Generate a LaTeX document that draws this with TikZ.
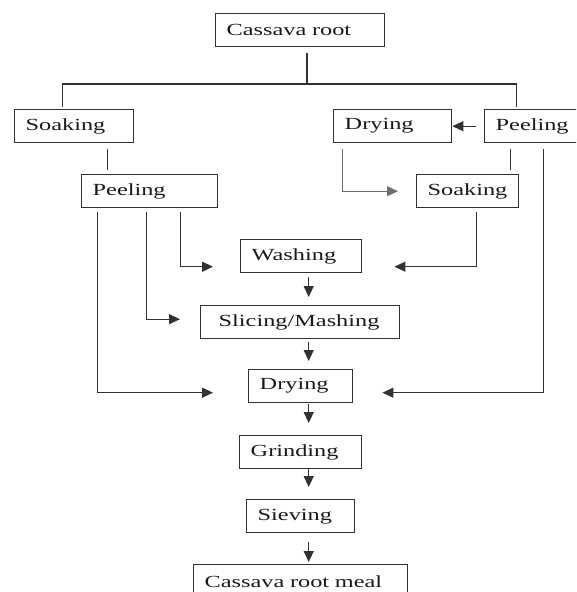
\documentclass[tikz,border=0pt]{standalone}
\usepackage{fontspec}
\setmainfont{Liberation Serif}[FakeStretch=1.43]
\usepackage{tikz}
\usetikzlibrary{arrows.meta}
\definecolor{boxgray}{RGB}{50,50,50}
\definecolor{textgray}{RGB}{25,25,25}
\definecolor{faintgray}{RGB}{110,110,110}
\tikzset{
  step-box/.style={draw=boxgray, line width=1.4pt, anchor=north west,
    text width=#1, align=left, inner xsep=11pt, inner ysep=0pt,
    minimum height=33pt, text=textgray, font=\fontsize{17}{20}\selectfont},
  flow-line/.style={line width=1.3pt, draw=boxgray},
  flow-arrow/.style={-{Triangle[length=11pt, width=10pt]}, line width=1.3pt, draw=boxgray},
  faint-arrow/.style={-{Triangle[length=11pt, width=10pt]}, line width=0.8pt, draw=faintgray}
}
\begin{document}
\begin{tikzpicture}[x=1pt, y=-1pt]
\useasboundingbox (0,0) rectangle (576,592);
\clip (0,0) rectangle (576,592);
% Process steps
\node[step-box=147pt] (root) at (215,13) {Cassava root};
\node[step-box=97pt] (soak-l) at (14,109) {Soaking};
\node[step-box=96pt] (dry-t) at (333,109) {Drying};
\node[step-box=88pt] (peel-r) at (484,109) {Peeling};
\node[step-box=114pt] (peel-l) at (81,174) {Peeling};
\node[step-box=80pt] (soak-r) at (416,174) {Soaking};
\node[step-box=99pt] (wash) at (240,239) {Washing};
\node[step-box=163pt, inner xsep=18pt] (slice) at (200,305) {Slicing/Mashing};
\node[step-box=82pt] (dry-m) at (248,369) {Drying};
\node[step-box=100pt] (grind) at (239,435) {Grinding};
\node[step-box=86pt] (sieve) at (246,499) {Sieving};
\node[step-box=192pt] (meal) at (193,564) {Cassava root meal};

% Split below the root
\coordinate (split) at (307,84);
\draw[flow-line, shorten >=6pt] (split) -- (split |- root.south);
\draw[flow-line, shorten >=2pt] (split) -| ([xshift=-11.5pt]soak-l.north);
\draw[flow-line, shorten >=2pt] (split) -| ([xshift=-23pt]peel-r.north);

% Upper branches
\draw[flow-arrow, shorten <=8pt] (peel-r.west) -- (dry-t.east);
\draw[flow-line, shorten <=6pt, shorten >=4pt] ([xshift=33.5pt]soak-l.south) -- ([xshift=33.5pt]soak-l.south |- peel-l.north);
\draw[flow-line, shorten <=6pt, shorten >=4pt] ([xshift=-29pt]peel-r.south) -- ([xshift=-29pt]peel-r.south |- soak-r.north);
\draw[faint-arrow, shorten <=6pt, shorten >=18pt] ([xshift=-50pt]dry-t.south) |- (soak-r.west);

% Feeds into the main line
\draw[flow-arrow, shorten <=4pt, shorten >=27pt] ([xshift=31pt]peel-l.south) |- ([yshift=-10.5pt]wash.west);
\draw[flow-arrow, shorten <=4pt, shorten >=20pt] ([xshift=-3pt]peel-l.south) |- ([yshift=3pt]slice.west);
\draw[flow-arrow, shorten <=4pt, shorten >=35pt] ([xshift=-52pt]peel-l.south) |- ([yshift=-6.5pt]dry-m.west);
\draw[flow-arrow, shorten <=4pt, shorten >=32pt] ([xshift=9pt]soak-r.south) |- ([yshift=-10.5pt]wash.east);
\draw[flow-arrow, shorten <=6pt, shorten >=29pt] ([xshift=4pt]peel-r.south) |- ([yshift=-6.5pt]dry-m.east);

% Main line
\draw[flow-arrow, shorten <=4pt, shorten >=8pt] ([xshift=7.5pt]wash.south) -- ([xshift=7.5pt]wash.south |- slice.north);
\draw[flow-arrow, shorten <=3pt, shorten >=8pt] ([xshift=7.5pt]wash.south |- slice.south) -- ([xshift=7.5pt]wash.south |- dry-m.north);
\draw[flow-arrow, shorten <=1pt, shorten >=12pt] ([xshift=8pt]dry-m.south) -- ([xshift=8pt]dry-m.south |- grind.north);
\draw[flow-arrow, shorten <=0pt, shorten >=12pt] ([xshift=8pt]dry-m.south |- grind.south) -- ([xshift=8pt]dry-m.south |- sieve.north);
\draw[flow-arrow, shorten <=9pt, shorten >=2pt] ([xshift=8pt]dry-m.south |- sieve.south) -- ([xshift=8pt]dry-m.south |- meal.north);
\end{tikzpicture}
\end{document}
